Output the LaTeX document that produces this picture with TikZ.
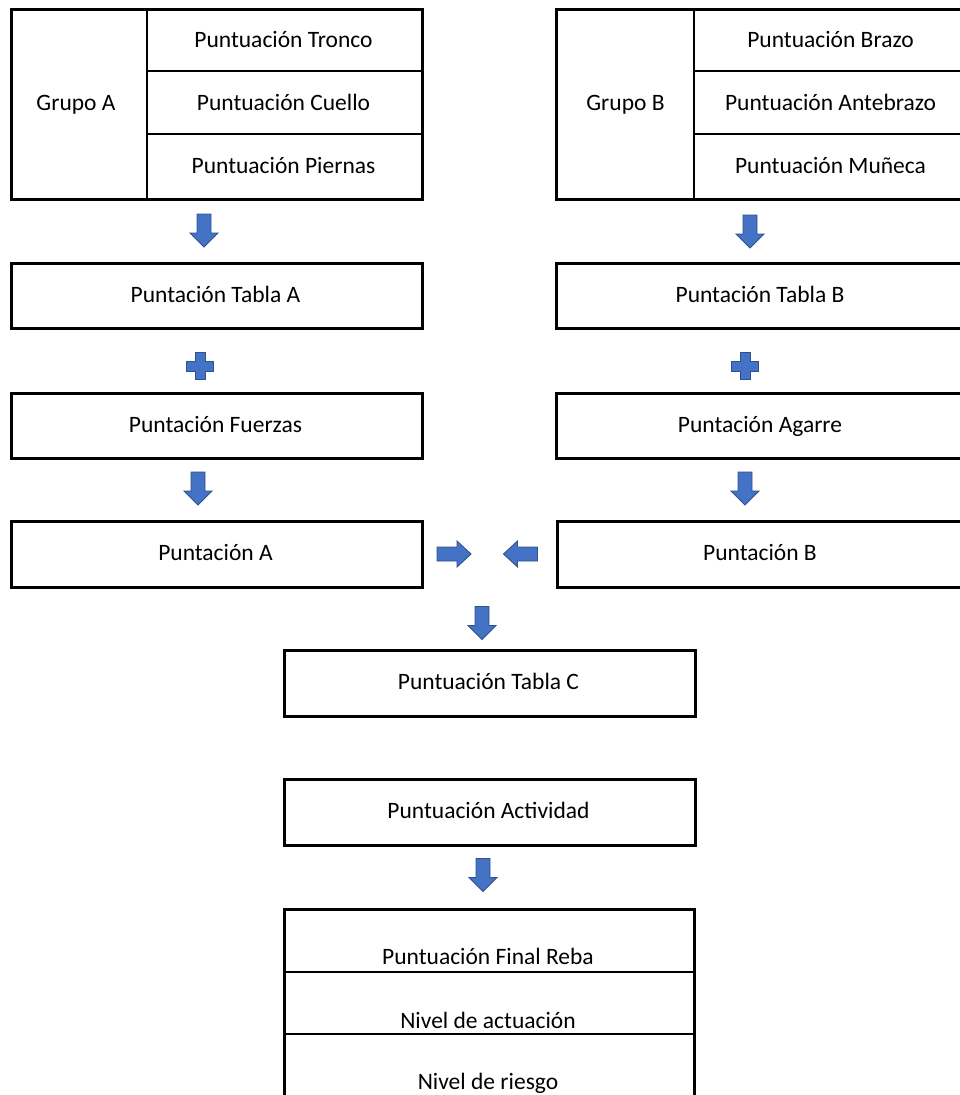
\documentclass[tikz,border=0pt]{standalone}
\usepackage{fontspec}
\setmainfont{Carlito}
\definecolor{arrfill}{HTML}{4472C4}
\definecolor{arrdraw}{HTML}{2F528F}
\tikzset{
  outerbox/.style={draw=black, line width=3pt, rectangle, inner sep=0pt, anchor=north west},
  divider/.style={draw=black, line width=1.8pt},
  lbl/.style={anchor=base, inner sep=0pt, font=\fontsize{23.5}{28}\selectfont},
  blockshape/.style={draw=arrdraw, fill=arrfill, line width=0.9pt, line join=miter},
  plussign/.pic={\path[blockshape] (-5,-13.5) -- (5,-13.5) -- (5,-5) -- (13.5,-5) -- (13.5,5) -- (5,5) -- (5,13.5) -- (-5,13.5) -- (-5,5) -- (-13.5,5) -- (-13.5,-5) -- (-5,-5) -- cycle;},
  downarrow/.pic={\path[blockshape] (-7,-16.5) -- (7,-16.5) -- (7,2.5) -- (14,2.5) -- (0,16.5) -- (-14,2.5) -- (-7,2.5) -- cycle;},
  rightarrow/.pic={\path[blockshape] (-17,-7) -- (3,-7) -- (3,-13) -- (17,0) -- (3,13) -- (3,7) -- (-17,7) -- cycle;},
  leftarrow/.pic={\path[blockshape] (17,-7) -- (-3,-7) -- (-3,-13) -- (-17,0) -- (-3,13) -- (-3,7) -- (17,7) -- cycle;}
}
\begin{document}
\begin{tikzpicture}[x=1pt,y=-1pt]
\useasboundingbox (0,0) rectangle (960,1095);
\fill[white] (0,0) rectangle (960,1095);
\clip (0,0) rectangle (960,1095);

% ---- Group A ----
\node[outerbox, minimum width=411, minimum height=190] (gA) at (10,8) {};
\draw[divider] (147,8) -- (147,198);
\draw[divider] (147,71) -- (421,71);
\draw[divider] (147,134) -- (421,134);
\node[lbl] (gAt) at (76,110) {Grupo A};
\node[lbl] (tronco) at (283.5,47) {Puntuación Tronco};
\node[lbl] (cuello) at (283.5,110) {Puntuación Cuello};
\node[lbl] (piernas) at (283.5,173.5) {Puntuación Piernas};

% ---- Group B ----
\node[outerbox, minimum width=411, minimum height=190] (gB) at (555,8) {};
\draw[divider] (694,8) -- (694,198);
\draw[divider] (694,71) -- (966,71);
\draw[divider] (694,134) -- (966,134);
\node[lbl] (gBt) at (625.5,110) {Grupo B};
\node[lbl] (brazo) at (830.5,47) {Puntuación Brazo};
\node[lbl] (antebrazo) at (830.5,110) {Puntuación Antebrazo};
\node[lbl] (muneca) at (830.5,173.5) {Puntuación Muñeca};

% ---- arrows to Tabla ----
\pic at (204,230.5) {downarrow};
\pic at (750,231.5) {downarrow};

% ---- Tabla A / B ----
\node[outerbox, minimum width=411, minimum height=65] (tA) at (10,262) {};
\node[lbl] (tAt) at (215.5,302) {Puntación Tabla A};
\node[outerbox, minimum width=411, minimum height=65] (tB) at (555,262) {};
\node[lbl] (tBt) at (760,302) {Puntación Tabla B};

% ---- plus signs ----
\pic at (200,366) {plussign};
\pic at (745,366) {plussign};

% ---- Fuerzas / Agarre ----
\node[outerbox, minimum width=411, minimum height=65] (fA) at (10,392) {};
\node[lbl] (fAt) at (215.5,432) {Puntación Fuerzas};
\node[outerbox, minimum width=411, minimum height=65] (fB) at (555,392) {};
\node[lbl] (fBt) at (760,432) {Puntación Agarre};

% ---- arrows to Puntacion A/B ----
\pic at (198,488.5) {downarrow};
\pic at (745,488.5) {downarrow};

% ---- Puntacion A / B ----
\node[outerbox, minimum width=411, minimum height=66] (pA) at (10,520) {};
\node[lbl] (pAt) at (215.5,560.5) {Puntación A};
\node[outerbox, minimum width=411, minimum height=66] (pB) at (556,520) {};
\node[lbl] (pBt) at (760,560.5) {Puntación B};

% ---- horizontal arrows ----
\pic at (454,554) {rightarrow};
\pic at (520.5,554) {leftarrow};

% ---- Tabla C ----
\pic at (482,623) {downarrow};
\node[outerbox, minimum width=411, minimum height=66] (tC) at (283,649) {};
\node[lbl] (tCt) at (488.5,689.5) {Puntuación Tabla C};

% ---- Actividad ----
\node[outerbox, minimum width=411, minimum height=66] (act) at (283,778) {};
\node[lbl] (actt) at (488.5,818.5) {Puntuación Actividad};
\pic at (483,875) {downarrow};

% ---- Final ----
\node[outerbox, minimum width=410, minimum height=260] (fin) at (283,908) {};
\draw[divider] (283,972) -- (693,972);
\draw[divider] (283,1034) -- (693,1034);
\node[lbl] (fint) at (488,964) {Puntuación Final Reba};
\node[lbl] (nact) at (488,1028) {Nivel de actuación};
\node[lbl] (nrie) at (488,1089) {Nivel de riesgo};
\end{tikzpicture}
\end{document}
